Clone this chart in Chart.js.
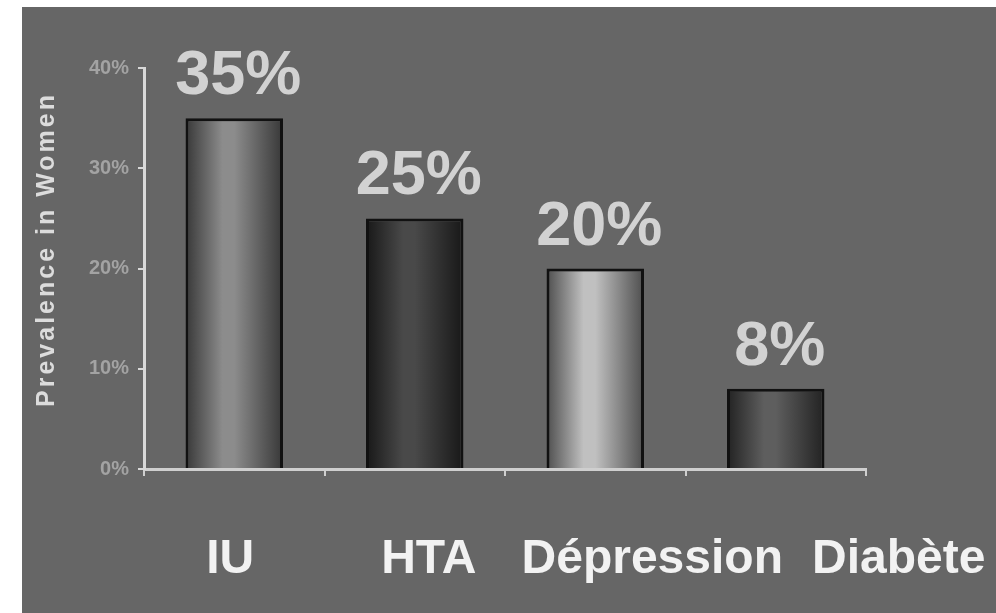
<!DOCTYPE html>
<html>
<head>
<meta charset="utf-8">
<script src="https://cdn.jsdelivr.net/npm/chart.js@4/dist/chart.umd.min.js"></script>
<style>
  html, body { margin: 0; padding: 0; background: #ffffff; }
  #frame {
    position: absolute; left: 22px; top: 7px;
    width: 974px; height: 606px; background: #666666;
  }
  canvas { display: block; }
</style>
</head>
<body>
<div id="frame"><canvas id="chart" width="974" height="606"></canvas></div>
<script>
// Prevalence of conditions among women
const categories = ['IU', 'HTA', 'Dépression', 'Diabète'];
const prevalence = [35, 25, 20, 8];
const valueLabels = ['35%', '25%', '20%', '8%'];
const yTicks = [0, 10, 20, 30, 40];
const yTitle = 'Prevalence in Women';

// Shading of each cylinder-like bar: [edge, centre]
const barShades = [
  ['#383838', '#8c8c8c'],
  ['#181818', '#494949'],
  ['#4e4e4e', '#c0c0c0'],
  ['#222222', '#5e5e5e']
];
// Horizontal shift of each category caption from its slot centre
const captionShift = [-4, 14, 57, 123];

const BAR_PCT = 0.54;

function barGradient(context) {
  const chart = context.chart;
  const xs = chart.scales.x;
  if (!xs || !chart.chartArea) return barShades[context.dataIndex][1];
  const i = context.dataIndex;
  const cx = xs.getPixelForValue(i);
  const slot = xs.width / categories.length;
  const half = slot * BAR_PCT / 2;
  const g = chart.ctx.createLinearGradient(cx - half, 0, cx + half, 0);
  const [edge, mid] = barShades[i];
  g.addColorStop(0, edge);
  g.addColorStop(0.38, mid);
  g.addColorStop(0.5, mid);
  g.addColorStop(1, edge);
  return g;
}

const overlay = {
  id: 'overlay',
  afterDatasetsDraw(chart) {
    const ctx = chart.ctx;
    const meta = chart.getDatasetMeta(0);
    ctx.save();
    // value labels above the bars
    ctx.font = 'bold 63px "Liberation Sans", Arial, sans-serif';
    ctx.fillStyle = '#d2d2d2';
    ctx.textAlign = 'center';
    ctx.textBaseline = 'alphabetic';
    meta.data.forEach((bar, i) => {
      ctx.fillText(valueLabels[i], bar.x + 4, bar.y - 24);
    });
    // category captions below the axis
    ctx.font = 'bold 48px "Liberation Sans", Arial, sans-serif';
    ctx.fillStyle = '#f2f2f2';
    const xs = chart.scales.x;
    categories.forEach((c, i) => {
      ctx.fillText(c, xs.getPixelForValue(i) + captionShift[i], chart.chartArea.bottom + 104);
    });
    // rotated axis title
    ctx.translate(25, (chart.chartArea.top + chart.chartArea.bottom) / 2 - 19);
    ctx.rotate(-Math.PI / 2);
    ctx.font = 'bold 25px "Liberation Sans", Arial, sans-serif';
    try { ctx.letterSpacing = '3px'; } catch (e) {}
    ctx.fillStyle = '#dcdcdc';
    ctx.textBaseline = 'middle';
    ctx.fillText(yTitle, 0, 0);
    ctx.restore();
  }
};

new Chart(document.getElementById('chart'), {
  type: 'bar',
  data: {
    labels: categories,
    datasets: [{
      data: prevalence,
      backgroundColor: barGradient,
      borderColor: '#111111',
      borderWidth: 3,
      categoryPercentage: 1,
      barPercentage: BAR_PCT
    }]
  },
  options: {
    responsive: false,
    animation: false,
    layout: { padding: { left: 0, right: 130, top: 61, bottom: 0 } },
    plugins: { legend: { display: false }, tooltip: { enabled: false } },
    scales: {
      x: {
        grid: {
          display: true, drawOnChartArea: false, offset: true,
          tickLength: 7, tickColor: '#cfcfcf', lineWidth: 2
        },
        border: { display: true, color: '#cfcfcf', width: 3 },
        ticks: { color: 'rgba(0,0,0,0)', font: { size: 10 } },
        afterFit(scale) { scale.height = 144; }
      },
      y: {
        min: 0, max: 40,
        afterBuildTicks(scale) { scale.ticks = yTicks.map(v => ({ value: v })); },
        grid: {
          display: true, drawOnChartArea: false,
          tickLength: 6, tickColor: '#d8d8d8', lineWidth: 2
        },
        border: { display: true, color: '#d8d8d8', width: 3 },
        ticks: {
          color: '#a3a3a3', padding: 9,
          font: { family: '"Liberation Sans", Arial, sans-serif', size: 20, weight: 'bold' },
          callback: v => v + '%'
        },
        afterFit(scale) { scale.width = 122; }
      }
    }
  },
  plugins: [overlay]
});
</script>
</body>
</html>
